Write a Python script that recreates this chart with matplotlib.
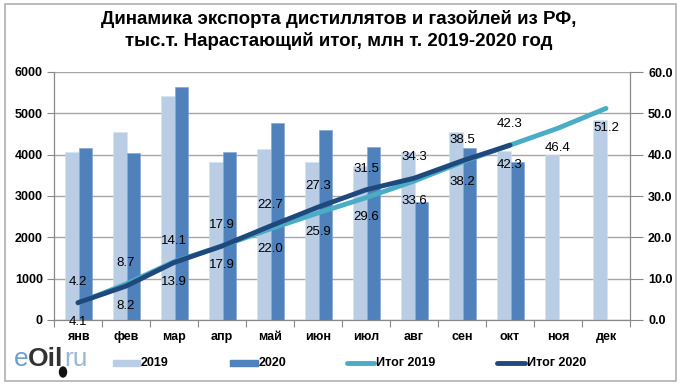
import matplotlib.pyplot as plt
import numpy as np
from matplotlib.patches import Rectangle, Ellipse
from matplotlib.lines import Line2D

months = ['янв', 'фев', 'мар', 'апр', 'май', 'июн', 'июл', 'авг', 'сен', 'окт', 'ноя', 'дек']
exp2019 = [4060, 4560, 5410, 3820, 4140, 3820, 3720, 4060, 4560, 4100, 4000, 4850]
exp2020 = [4160, 4040, 5630, 4060, 4760, 4590, 4180, 2850, 4150, 3820]
cum2019 = [4.1, 8.7, 14.1, 17.9, 22.0, 25.9, 29.6, 33.6, 38.2, 42.3, 46.4, 51.2]
cum2020 = [4.2, 8.2, 13.9, 17.9, 22.7, 27.3, 31.5, 34.3, 38.5, 42.3]
legend_labels = ['2019', '2020', 'Итог 2019', 'Итог 2020']

c19 = '#B9CDE5'
c20 = '#4F81BD'
cl19 = '#4BACC6'
cl20 = '#1F497D'
grid_c = '#A6A6A6'

plt.rcParams['font.family'] = ['Liberation Sans', 'DejaVu Sans']

W, H = 682, 389
fig = plt.figure(figsize=(W / 100, H / 100), dpi=100)

def fx(px):
    return px / W

def fy(py):
    return 1 - py / H

fig.patches.append(Rectangle((fx(4.5), fy(381)), fx(671.5), 377 / H,
                             transform=fig.transFigure, fill=False,
                             edgecolor='#B0B0B0', linewidth=1.2))

ax = fig.add_axes([fx(54), fy(320), fx(576), 248 / H])
ax2 = ax.twinx()

x = np.arange(len(months))
x20 = np.arange(len(exp2020))
w = 0.275
ax.bar(x - 0.125, exp2019, width=w, color=c19, edgecolor='#D6E2F0', linewidth=0.4, zorder=2)
ax.bar(x20 + 0.15, exp2020, width=w, color=c20, edgecolor='#7FA3D0', linewidth=0.4, zorder=2)

ax.set_xlim(-0.5, 11.5)
ax.set_ylim(0, 6000)
ax.set_yticks(np.arange(0, 6001, 1000))
ax.yaxis.grid(True, color=grid_c, linewidth=1.0, zorder=0)
ax.set_axisbelow(True)
ax.set_xticks(np.arange(-0.5, 12, 1))
ax.set_xticklabels([])
ax.set_xticks(x, minor=True)
ax.set_xticklabels(months, minor=True, fontsize=9, fontweight='bold')
ax.tick_params(axis='x', which='major', length=5, color='#888888')
ax.tick_params(axis='x', which='minor', length=0, pad=8)
ax.tick_params(axis='y', length=5, color='#888888', labelsize=9, pad=3)
for lab in ax.get_yticklabels():
    lab.set_fontweight('bold')

ax2.set_ylim(0, 60)
ax2.set_yticks(np.arange(0, 61, 10))
ax2.set_yticklabels(['%.1f' % v for v in np.arange(0, 61, 10)], fontsize=9, fontweight='bold')
ax2.tick_params(axis='y', length=9, color='#888888', pad=4)

for a in (ax, ax2):
    a.spines['top'].set_visible(False)
    a.spines['left'].set_color('#888888')
    a.spines['right'].set_color('#888888')
    a.spines['bottom'].set_color('#888888')

ax2.plot(x, cum2019, color=cl19, linewidth=3.5, solid_capstyle='round', zorder=3)
ax2.plot(x20, cum2020, color=cl20, linewidth=3.5, solid_capstyle='round', zorder=4)

# data labels: higher value above the line, lower below
for i in range(len(months)):
    v19 = cum2019[i]
    if i < len(cum2020):
        v20 = cum2020[i]
        up, dn = (v20, v19) if v20 >= v19 else (v19, v20)
        ax2.annotate('%.1f' % up, (i, up), xytext=(0, 15), textcoords='offset points',
                     ha='center', va='center', fontsize=9.5, zorder=5)
        ax2.annotate('%.1f' % dn, (i, dn), xytext=(0, -14), textcoords='offset points',
                     ha='center', va='center', fontsize=9.5, zorder=5)
    else:
        ax2.annotate('%.1f' % v19, (i, v19), xytext=(0, -14), textcoords='offset points',
                     ha='center', va='center', fontsize=9.5, zorder=5)

fig.text(0.497, fy(30), 'Динамика экспорта дистиллятов и газойлей из РФ,\nтыс.т. Нарастающий итог, млн т. 2019-2020 год',
         ha='center', va='center', fontsize=13.5, fontweight='bold', linespacing=1.3,
         family=['Liberation Sans Narrow', 'Liberation Sans'])

# legend drawn by hand to keep Excel-like spacing
ly = fy(363)
fig.patches.append(Rectangle((fx(113), fy(366)), fx(27), 6 / H, transform=fig.transFigure,
                             color=c19))
fig.patches.append(Rectangle((fx(230), fy(366)), fx(28), 6 / H, transform=fig.transFigure,
                             color=c20))
fig.lines.append(Line2D([fx(347), fx(374)], [ly, ly], transform=fig.transFigure,
                        color=cl19, linewidth=3.5, solid_capstyle='round'))
fig.lines.append(Line2D([fx(497), fx(525)], [ly, ly], transform=fig.transFigure,
                        color=cl20, linewidth=3.5, solid_capstyle='round'))
for xp, lab in zip([141, 259, 376, 527], legend_labels):
    fig.text(fx(xp), ly, lab, ha='left', va='center', fontsize=9, fontweight='bold')

# logo
lg = fy(359)
fig.text(fx(14), lg, 'e', color='#6C9FD2', fontsize=19, va='center', ha='left')
fig.text(fx(28), lg, 'Oil', color='#333333', fontsize=19, fontweight='bold', va='center', ha='left')
fig.text(fx(64), lg, 'ru', color='#9BB7D6', fontsize=19, va='center', ha='left')
fig.patches.append(Ellipse((fx(63), fy(372)), fx(7), 10 / H, transform=fig.transFigure,
                           color='#111111'))

fig.savefig('out.png', dpi=100)
